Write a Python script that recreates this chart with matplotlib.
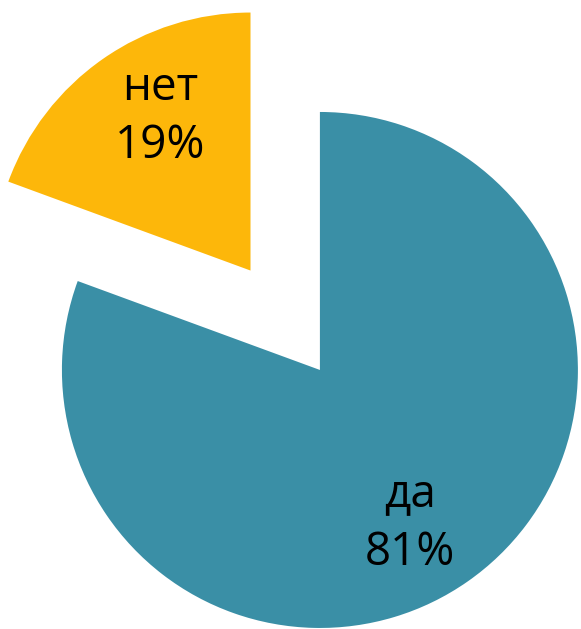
import matplotlib.pyplot as plt
import numpy as np

# answer shares, percent
labels = ["да", "нет"]
values = [80.6, 19.4]
colors = ["#3A8FA6", "#FDB70A"]
explode = [0.0, 0.47]

plt.rcParams["font.family"] = ["Open Sans", "DejaVu Sans"]

fig = plt.figure(figsize=(5.81, 6.29), dpi=100)
ax = fig.add_axes([0, 0, 1, 1])

wedges, _ = ax.pie(
    values,
    colors=colors,
    explode=explode,
    startangle=90,
    counterclock=False,
    wedgeprops=dict(linewidth=0),
)

# label in each wedge: name over rounded percent
total = sum(values)
for w, name, v in zip(wedges, labels, values):
    mid = np.deg2rad((w.theta1 + w.theta2) / 2 - 4.5)
    cx, cy = w.center
    r = 0.69
    ax.text(
        cx + r * np.cos(mid),
        cy + r * np.sin(mid),
        f"{name}\n{v / total * 100:.0f}%",
        ha="center",
        va="center",
        fontsize=33,
        linespacing=1.36,
        color="black",
    )

ax.set_xlim(-1.240, 1.012)
ax.set_ylim(-1.004, 1.434)
ax.set_aspect("auto")
ax.axis("off")

fig.savefig("out.png", dpi=100, facecolor="white")
